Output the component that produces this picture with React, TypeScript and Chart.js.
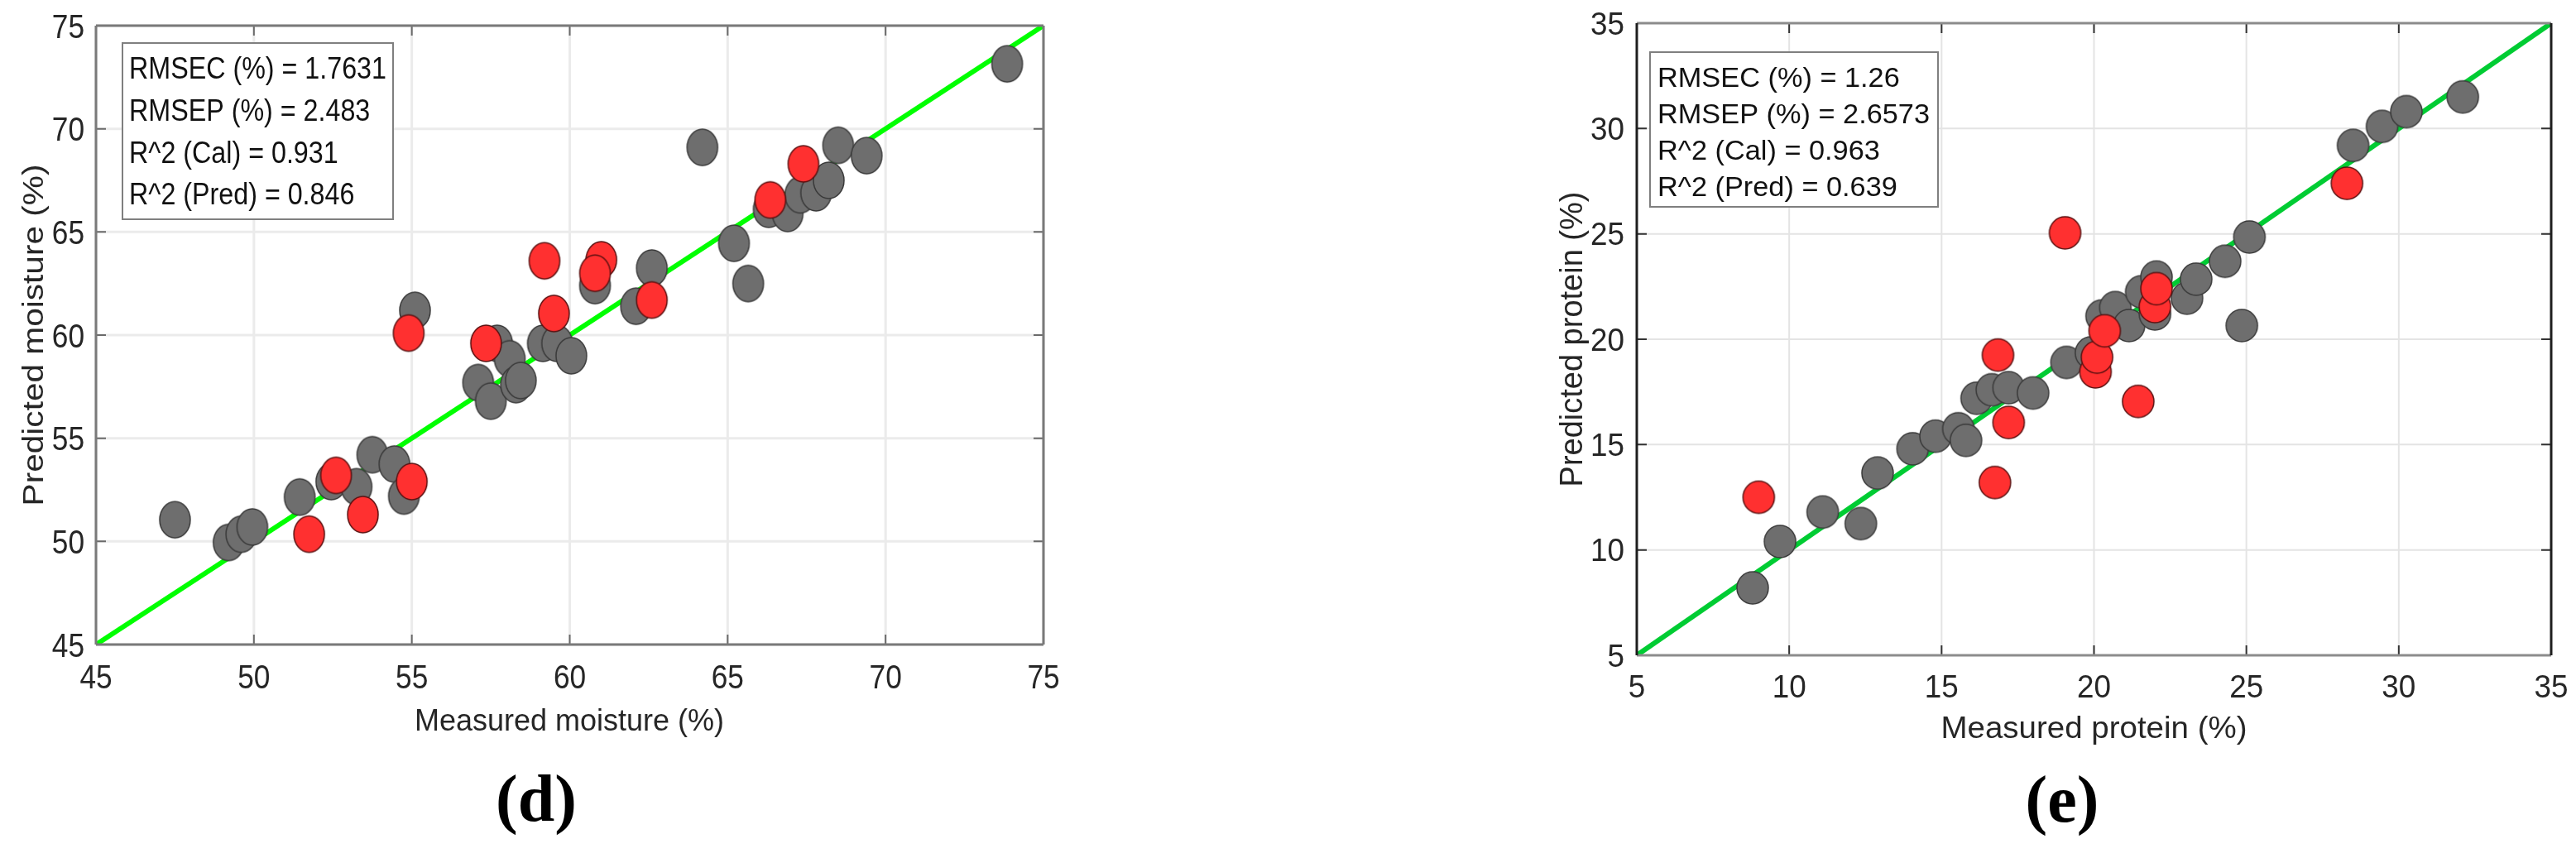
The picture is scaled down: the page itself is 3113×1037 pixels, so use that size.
import React, { useEffect, useRef } from "react";
import { Chart, registerables } from "chart.js";
Chart.register(...registerables);

// ---------- data: panel (d) moisture ----------
const moistureTicks = [45, 50, 55, 60, 65, 70, 75];
const moistureIdentity = [45, 75];
const moistureCalMeasured = [47.5, 49.2, 49.6, 49.95, 51.45, 52.45, 53.25, 53.75, 54.45, 54.75, 55.1, 57.1, 57.5, 57.7, 58.1, 58.3, 58.45, 59.15, 59.6, 60.05, 60.8, 62.1, 62.6, 65.2, 65.65, 64.2, 66.3, 66.9, 67.3, 67.8, 68.2, 68.5, 69.4, 73.85];
const moistureCalPredicted = [51.05, 49.95, 50.35, 50.7, 52.15, 52.9, 52.65, 54.2, 53.75, 52.2, 61.2, 57.7, 56.8, 59.6, 58.85, 57.6, 57.8, 59.6, 59.6, 59.0, 62.4, 61.4, 63.25, 64.45, 62.5, 69.1, 66.1, 65.9, 66.8, 66.9, 67.5, 69.2, 68.7, 73.15];
const moisturePredMeasured = [51.75, 52.6, 53.45, 54.9, 55.0, 57.35, 59.2, 59.5, 61.0, 60.8, 62.6, 66.35, 67.4];
const moisturePredPredicted = [50.35, 53.2, 51.3, 60.1, 52.9, 59.6, 63.6, 61.05, 63.65, 63.0, 61.7, 66.55, 68.3];
const moistureStats = ["RMSEC (%) = 1.7631", "RMSEP (%) = 2.483", "R^2 (Cal) = 0.931", "R^2 (Pred) = 0.846"];

// ---------- data: panel (e) protein ----------
const proteinTicks = [5, 10, 15, 20, 25, 30, 35];
const proteinIdentity = [5, 35];
const proteinCalMeasured = [8.8, 9.7, 11.1, 12.35, 12.9, 14.05, 14.8, 15.55, 15.8, 16.15, 16.65, 17.2, 18.0, 19.1, 19.9, 20.25, 20.7, 21.15, 21.55, 22.0, 22.05, 23.05, 23.35, 24.3, 24.85, 25.1, 28.5, 29.45, 30.25, 32.1];
const proteinCalPredicted = [8.2, 10.4, 11.8, 11.25, 13.65, 14.8, 15.4, 15.75, 15.2, 17.2, 17.6, 17.7, 17.45, 18.9, 19.35, 21.1, 21.5, 20.65, 22.25, 21.2, 22.95, 21.95, 22.85, 23.7, 20.65, 24.85, 29.2, 30.1, 30.8, 31.5];
const proteinPredMeasured = [9.0, 16.75, 17.2, 16.85, 19.05, 21.45, 20.05, 20.1, 20.35, 22.0, 22.05, 28.3];
const proteinPredPredicted = [12.5, 13.2, 16.05, 19.25, 25.05, 17.05, 18.45, 19.15, 20.4, 21.55, 22.4, 27.4];
const proteinStats = ["RMSEC (%) = 1.26", "RMSEP (%) = 2.6573", "R^2 (Cal) = 0.963", "R^2 (Pred) = 0.639"];

const SANS = '"Liberation Sans", Arial, Helvetica, sans-serif';
const SERIF = '"Liberation Serif", "Times New Roman", serif';

function pairs(xs: number[], ys: number[]) {
  return xs.map((x, i) => ({ x, y: ys[i] }));
}

function makeEllipse(w: number, h: number, fill: string, stroke: string, lw: number) {
  const c = document.createElement("canvas");
  c.width = Math.ceil(w + lw + 2);
  c.height = Math.ceil(h + lw + 2);
  const ctx = c.getContext("2d")!;
  ctx.beginPath();
  ctx.ellipse(c.width / 2, c.height / 2, w / 2, h / 2, 0, 0, Math.PI * 2);
  ctx.fillStyle = fill;
  ctx.fill();
  ctx.lineWidth = lw;
  ctx.strokeStyle = stroke;
  ctx.stroke();
  return c;
}

function drawText(
  ctx: CanvasRenderingContext2D,
  text: string,
  x: number,
  y: number,
  o: { size: number; sx?: number; align?: CanvasTextAlign; family?: string; weight?: string; color?: string; rotate?: boolean }
) {
  ctx.save();
  ctx.translate(x, y);
  if (o.rotate) ctx.rotate(-Math.PI / 2);
  ctx.scale(o.sx ?? 1, 1);
  ctx.font = `${o.weight ?? "normal"} ${o.size}px ${o.family ?? SANS}`;
  ctx.textAlign = o.align ?? "left";
  ctx.textBaseline = "alphabetic";
  ctx.fillStyle = o.color ?? "#262626";
  ctx.fillText(text, 0, 0);
  ctx.restore();
}

type PanelCfg = {
  canvasLeft: number;
  canvasWidth: number;
  padding: { left: number; top: number; right: number; bottom: number };
  ticks: number[];
  identity: number[];
  calX: number[];
  calY: number[];
  predX: number[];
  predY: number[];
  stats: string[];
  xTitle: string;
  yTitle: string;
  caption: string;
  frame: { left: string; right: string; top: string; bottom: string };
  frameWidth: number;
  tickColor: string;
  tickLen: number;
  gridColor: string;
  gridWidth: number;
  tickFont: { size: number; sx: number };
  yTickRight: number;
  xTickBaseline: number;
  xTitlePos: { x: number; y: number; size: number; sx: number };
  yTitlePos: { x: number; y: number; size: number; sx: number };
  box: { x: number; y: number; w: number; h: number; textX: number; baselines: number[]; size: number; sx: number };
  captionPos: { x: number; y: number; size: number };
  marker: { w: number; h: number };
  lineColor: string;
  lineWidth: number;
};

const panelD: PanelCfg = {
  canvasLeft: 0,
  canvasWidth: 1550,
  padding: { left: 116, top: 31, right: 289, bottom: 258 },
  ticks: moistureTicks,
  identity: moistureIdentity,
  calX: moistureCalMeasured,
  calY: moistureCalPredicted,
  predX: moisturePredMeasured,
  predY: moisturePredPredicted,
  stats: moistureStats,
  xTitle: "Measured moisture (%)",
  yTitle: "Predicted moisture (%)",
  caption: "(d)",
  frame: { left: "#7a7a7a", right: "#7a7a7a", top: "#7a7a7a", bottom: "#7a7a7a" },
  frameWidth: 3,
  tickColor: "#6a6a6a",
  tickLen: 12,
  gridColor: "#ebebeb",
  gridWidth: 3,
  tickFont: { size: 41, sx: 0.86 },
  yTickRight: 102,
  xTickBaseline: 832,
  xTitlePos: { x: 688, y: 883, size: 36, sx: 1.0 },
  yTitlePos: { x: 52, y: 405, size: 35, sx: 1.16 },
  box: { x: 148, y: 52, w: 327, h: 213, textX: 156, baselines: [95, 146, 197, 247], size: 37.5, sx: 0.86 },
  captionPos: { x: 648, y: 992, size: 80 },
  marker: { w: 37, h: 44 },
  lineColor: "#00ff00",
  lineWidth: 6,
};

const panelE: PanelCfg = {
  canvasLeft: 1550,
  canvasWidth: 1563,
  padding: { left: 428, top: 28, right: 30, bottom: 245 },
  ticks: proteinTicks,
  identity: proteinIdentity,
  calX: proteinCalMeasured,
  calY: proteinCalPredicted,
  predX: proteinPredMeasured,
  predY: proteinPredPredicted,
  stats: proteinStats,
  xTitle: "Measured protein (%)",
  yTitle: "Predicted protein (%)",
  caption: "(e)",
  frame: { left: "#1e1e1e", right: "#1e1e1e", top: "#8c8c8c", bottom: "#8c8c8c" },
  frameWidth: 3,
  tickColor: "#333333",
  tickLen: 12,
  gridColor: "#e4e4e4",
  gridWidth: 2,
  tickFont: { size: 38, sx: 0.97 },
  yTickRight: 413,
  xTickBaseline: 843,
  xTitlePos: { x: 980.5, y: 892, size: 37, sx: 1.04 },
  yTitlePos: { x: 362, y: 410, size: 38, sx: 1.0 },
  box: { x: 444, y: 63, w: 348, h: 187, textX: 453, baselines: [105, 149, 193, 237], size: 33, sx: 1.04 },
  captionPos: { x: 942, y: 993, size: 80 },
  marker: { w: 38, h: 39 },
  lineColor: "#00cc33",
  lineWidth: 6,
};

function makePlugin(cfg: PanelCfg) {
  return {
    id: "matlabDecor",
    beforeDatasetsDraw(chart: any) {
      const { ctx, chartArea: a, scales } = chart;
      const xs = scales.x, ys = scales.y;
      ctx.save();
      ctx.strokeStyle = cfg.gridColor;
      ctx.lineWidth = cfg.gridWidth;
      cfg.ticks.forEach((t) => {
        const px = xs.getPixelForValue(t);
        const py = ys.getPixelForValue(t);
        ctx.beginPath();
        ctx.moveTo(px, a.top);
        ctx.lineTo(px, a.bottom);
        ctx.moveTo(a.left, py);
        ctx.lineTo(a.right, py);
        ctx.stroke();
      });
      ctx.restore();
    },
    afterDatasetsDraw(chart: any) {
      const { ctx, chartArea: a, scales } = chart;
      const xs = scales.x, ys = scales.y;
      ctx.save();
      // tick marks (inside, all sides)
      ctx.strokeStyle = cfg.tickColor;
      ctx.lineWidth = 2;
      cfg.ticks.forEach((t) => {
        const px = xs.getPixelForValue(t);
        const py = ys.getPixelForValue(t);
        ctx.beginPath();
        ctx.moveTo(px, a.bottom);
        ctx.lineTo(px, a.bottom - cfg.tickLen);
        ctx.moveTo(px, a.top);
        ctx.lineTo(px, a.top + cfg.tickLen);
        ctx.moveTo(a.left, py);
        ctx.lineTo(a.left + cfg.tickLen, py);
        ctx.moveTo(a.right, py);
        ctx.lineTo(a.right - cfg.tickLen, py);
        ctx.stroke();
      });
      // frame
      ctx.lineWidth = cfg.frameWidth;
      const seg = (c: string, x1: number, y1: number, x2: number, y2: number) => {
        ctx.strokeStyle = c;
        ctx.beginPath();
        ctx.moveTo(x1, y1);
        ctx.lineTo(x2, y2);
        ctx.stroke();
      };
      seg(cfg.frame.top, a.left, a.top, a.right, a.top);
      seg(cfg.frame.bottom, a.left, a.bottom, a.right, a.bottom);
      seg(cfg.frame.left, a.left, a.top, a.left, a.bottom);
      seg(cfg.frame.right, a.right, a.top, a.right, a.bottom);

      // tick labels
      const f = cfg.tickFont;
      cfg.ticks.forEach((t) => {
        const px = xs.getPixelForValue(t);
        const py = ys.getPixelForValue(t);
        drawText(ctx, String(t), cfg.yTickRight, py + f.size * 0.358, { size: f.size, sx: f.sx, align: "right" });
        drawText(ctx, String(t), px, cfg.xTickBaseline, { size: f.size, sx: f.sx, align: "center" });
      });
      // axis titles
      const xt = cfg.xTitlePos;
      drawText(ctx, cfg.xTitle, xt.x, xt.y, { size: xt.size, sx: xt.sx, align: "center" });
      const yt = cfg.yTitlePos;
      drawText(ctx, cfg.yTitle, yt.x, yt.y, { size: yt.size, sx: yt.sx, align: "center", rotate: true });

      // stats box
      const b = cfg.box;
      ctx.fillStyle = "#ffffff";
      ctx.fillRect(b.x, b.y, b.w, b.h);
      ctx.strokeStyle = "#7f7f7f";
      ctx.lineWidth = 2;
      ctx.strokeRect(b.x, b.y, b.w, b.h);
      cfg.stats.forEach((s, i) => {
        drawText(ctx, s, b.textX, b.baselines[i], { size: b.size, sx: b.sx, color: "#111111" });
      });

      // caption
      const c = cfg.captionPos;
      drawText(ctx, cfg.caption, c.x, c.y, { size: c.size, align: "center", family: SERIF, weight: "bold", color: "#000000" });
      ctx.restore();
    },
  };
}

function Panel({ cfg }: { cfg: PanelCfg }) {
  const ref = useRef<HTMLCanvasElement | null>(null);
  useEffect(() => {
    const canvas = ref.current!;
    const grayMarker = makeEllipse(cfg.marker.w, cfg.marker.h, "rgb(110,110,110)", "#3a3a3a", 1.5);
    const redMarker = makeEllipse(cfg.marker.w, cfg.marker.h, "rgb(255,48,48)", "#5a1010", 1.5);
    const lo = cfg.ticks[0];
    const hi = cfg.ticks[cfg.ticks.length - 1];
    const chart = new Chart(canvas, {
      type: "scatter",
      data: {
        datasets: [
          {
            type: "line",
            label: "y = x",
            data: pairs(cfg.identity, cfg.identity),
            borderColor: cfg.lineColor,
            borderWidth: cfg.lineWidth,
            pointRadius: 0,
            fill: false,
            order: 3,
          } as any,
          {
            label: "Calibration",
            data: pairs(cfg.calX, cfg.calY),
            pointStyle: grayMarker as any,
            pointRadius: 18,
            order: 2,
          },
          {
            label: "Prediction",
            data: pairs(cfg.predX, cfg.predY),
            pointStyle: redMarker as any,
            pointRadius: 18,
            order: 1,
          },
        ],
      },
      options: {
        animation: false,
        responsive: false,
        devicePixelRatio: 1,
        events: [],
        layout: { padding: cfg.padding },
        plugins: { legend: { display: false }, tooltip: { enabled: false } },
        scales: {
          x: { type: "linear", min: lo, max: hi, display: false },
          y: { type: "linear", min: lo, max: hi, display: false },
        },
      },
      plugins: [makePlugin(cfg)],
    });
    return () => chart.destroy();
  }, [cfg]);
  return (
    <canvas
      ref={ref}
      width={cfg.canvasWidth}
      height={1037}
      style={{ position: "absolute", left: cfg.canvasLeft, top: 0, width: cfg.canvasWidth, height: 1037 }}
    />
  );
}

export default function App() {
  useEffect(() => {
    document.body.style.margin = "0";
    document.body.style.overflow = "hidden";
    document.body.style.background = "#ffffff";
  }, []);
  return (
    <div style={{ position: "relative", width: 3113, height: 1037, background: "#ffffff" }}>
      <Panel cfg={panelD} />
      <Panel cfg={panelE} />
    </div>
  );
}
